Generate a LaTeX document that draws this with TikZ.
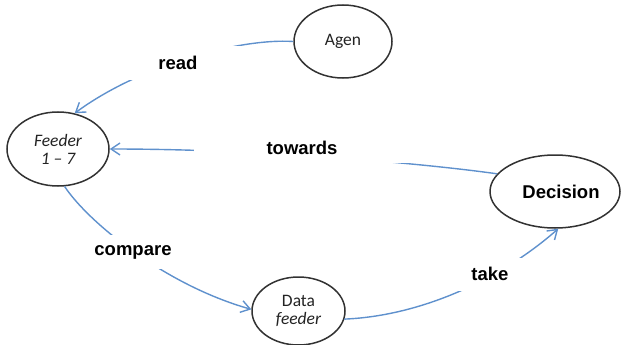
\documentclass[tikz,border=0pt]{standalone}
\usepackage{fontspec}
\usetikzlibrary{shapes.geometric,arrows.meta}
\newfontfamily\lblfont{Liberation Sans}
\newfontfamily\calfont{Carlito}
\definecolor{edgeblue}{RGB}{95,145,205}
\definecolor{rimgray}{RGB}{50,50,50}
\definecolor{inkgray}{RGB}{35,35,35}
\tikzset{
  state/.style={ellipse, draw=rimgray, line width=1.5pt, inner sep=0pt,
    align=center, text=inkgray, font=\calfont\fontsize{17.5}{19}\selectfont},
  boldstate/.style={state, text=black, font=\lblfont\bfseries\fontsize{18.5}{22}\selectfont},
  conn/.style={draw=edgeblue, line width=1.4pt,
    -{Straight Barb[length=9pt,width=12pt,line width=1.4pt]}},
  lbl/.style={fill=white, inner sep=0pt,
    font=\lblfont\bfseries\fontsize{18.5}{22}\selectfont}
}
\begin{document}
\begin{tikzpicture}[x=1pt,y=-1pt]
\useasboundingbox (0,0) rectangle (621,345);

% states
\node[state, minimum width=98pt, minimum height=73pt] (agen) at (343,41.5) {Agen};
\node[state, minimum width=102pt, minimum height=74pt] (feeder) at (58,149) {\itshape Feeder\\[-1pt]\itshape 1 – 7};
\node[state, minimum width=93pt, minimum height=68pt] (data) at (298.5,311) {Data\\[-1pt]\itshape feeder};
\node[boldstate, minimum width=130pt, minimum height=73pt] (decision) at (555,191.5) {\hspace*{12pt}Decision};

% transitions
\draw[conn] (agen.180) .. controls (240,38) and (140,65) .. (feeder.65);
\draw[conn] (decision.163) .. controls (420,163) and (260,149) .. (feeder.east);
\draw[conn] (feeder.280) .. controls (88,222) and (165,285) .. (data.178);
\draw[conn] (data.-10) .. controls (420,316) and (500,280) .. (decision.275);

% transition labels (white boxes mask the lines beneath)
\node[lbl, minimum width=139pt, minimum height=34pt] (lread) at (178,63) {read};
\node[lbl, minimum width=216pt, minimum height=30pt] (ltowards) at (302,148) {towards};
\node[lbl, minimum width=110pt, minimum height=34pt] (lcompare) at (133,252) {compare};
\node[lbl, minimum width=100pt, minimum height=33pt] (ltake) at (490,274) {take};
\end{tikzpicture}
\end{document}
